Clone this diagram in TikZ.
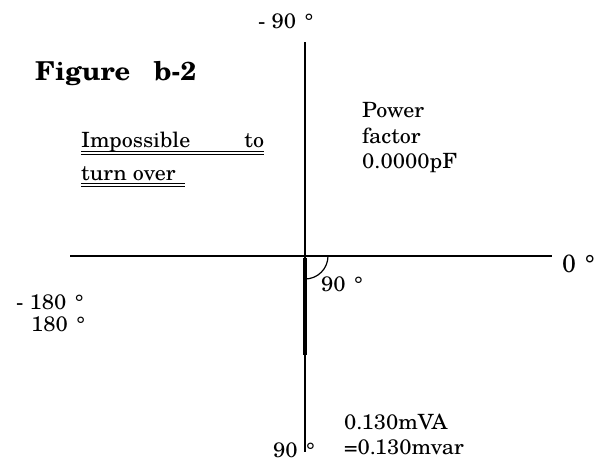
\documentclass[tikz,border=0pt]{standalone}
\usepackage{fontspec}
\setmainfont[FakeStretch=1.05]{TeX Gyre Schola}
\newfontfamily\plainfont{TeX Gyre Schola}
\newcommand{\dg}{\hspace{0.4em}°}
\begin{document}
\begin{tikzpicture}[x=1pt,y=-1pt,
  lbl/.style={anchor=base west,inner sep=0pt,font=\fontsize{21}{24}\selectfont},
  axis/.style={line width=1.5pt},
  uline/.style={line width=0.8pt}]
\useasboundingbox (0,0) rectangle (599,464);
% axes
\coordinate (top) at (305,42);
\coordinate (bot) at (305,452);
\coordinate (left) at (70,256);
\coordinate (right) at (552,256);
\coordinate (o) at (305,256);
\coordinate (vend) at (305,355);
\draw[axis] (top) -- (bot);
\draw[axis] (left) -- (right);
\draw[line width=4pt] (305,258) -- (vend);
\draw[line width=1.2pt] (328,256) arc[start angle=0,end angle=90,radius=23];
% labels
\node[lbl] (m90) at (258,28) {- 90\dg};
\node[anchor=base west,inner sep=0pt,font=\fontsize{26}{30}\selectfont\bfseries] (fig) at (35,80) {Figure\hspace{0.9em}b-2};
\node[lbl] (imp) at (81,147) {\hbox to 183pt{Impossible\hfill to}};
\node[lbl] (turn) at (81,180) {turn over};
\draw[uline] (81,151) -- (264,151);
\draw[uline] (81,154) -- (264,154);
\draw[uline] (81,183.5) -- (185,183.5);
\draw[uline] (81,186.5) -- (185,186.5);
\node[lbl] (pw) at (362,117) {Power};
\node[lbl] (fc) at (362,143) {factor};
\node[lbl] (pf) at (362,168) {0.0000pF};
\node[anchor=base west,inner sep=0pt,font=\plainfont\fontsize{25}{30}\selectfont] (zero) at (562,272) {0\hspace{0.35em}°};
\node[lbl] (n90) at (321,291) {90\dg};
\node[lbl] (m180) at (16,309) {- 180\dg};
\node[lbl] (p180) at (31,331) {180\dg};
\node[lbl] (mva) at (344,429) {0.130mVA};
\node[lbl] (mvar) at (344,454) {=0.130mvar};
\node[lbl] (b90) at (273,457) {90\dg};
\end{tikzpicture}
\end{document}
